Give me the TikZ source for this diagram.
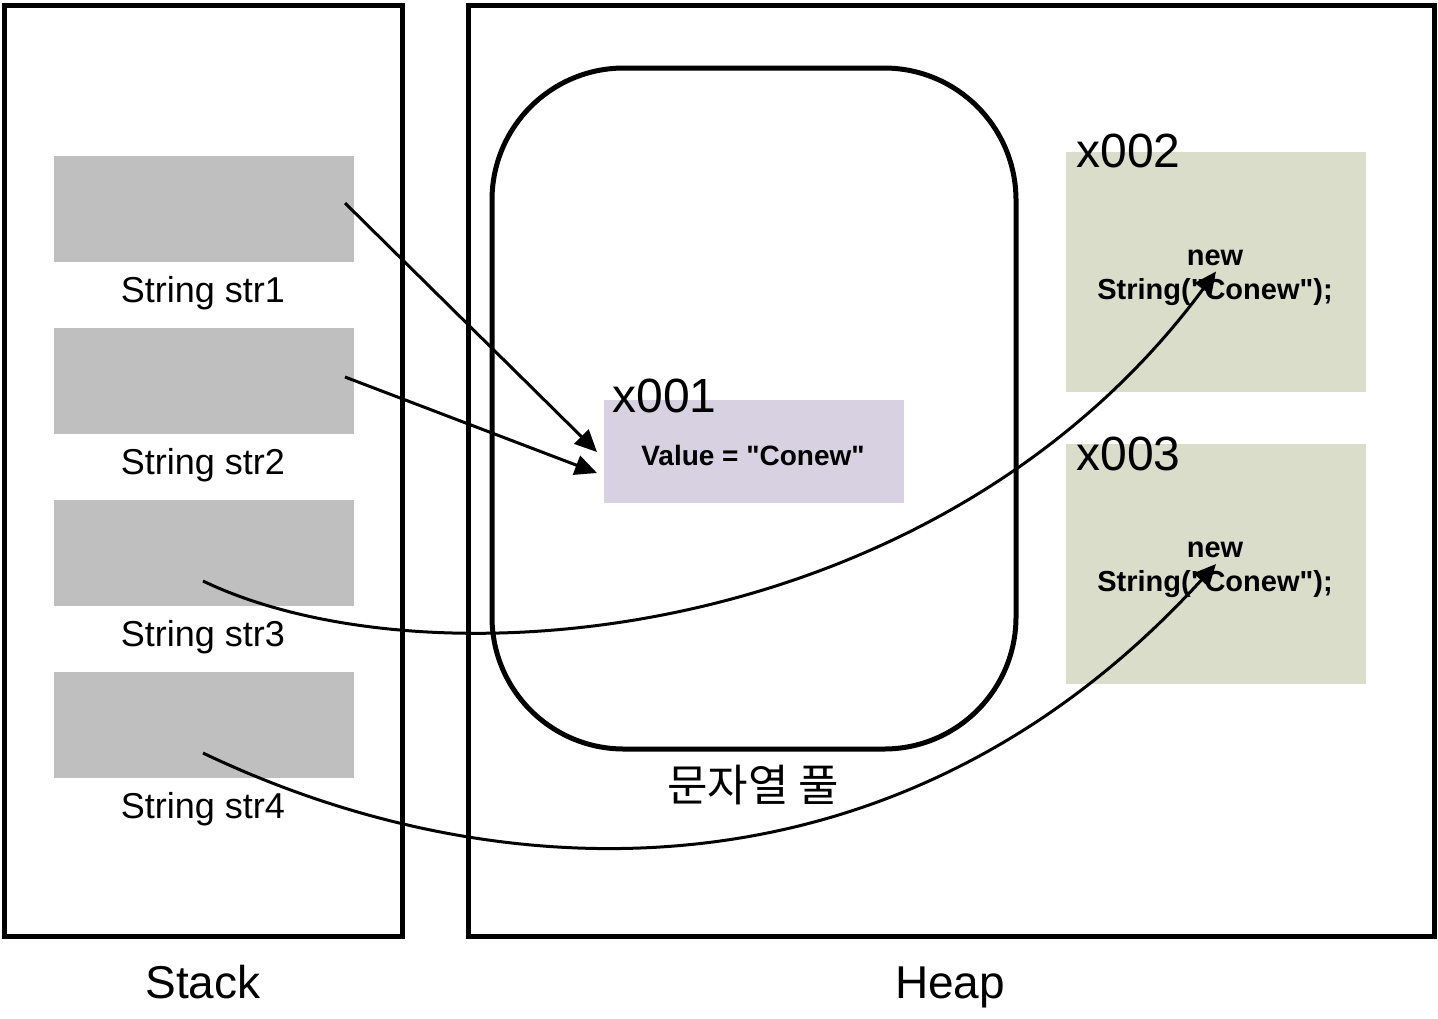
\documentclass[tikz,border=0pt]{standalone}
\usepackage{fontspec}
\setmainfont{Liberation Sans}
\newfontfamily\krfont{Noto Sans CJK KR}
\usetikzlibrary{arrows.meta,positioning}
\definecolor{slotgray}{HTML}{BFBFBF}
\definecolor{poolpurple}{HTML}{D8D1E2}
\definecolor{objgreen}{HTML}{DADDCA}
\newcommand{\qq}{\textquotedbl}

\begin{document}
\begin{tikzpicture}[x=0.5pt, y=-0.5pt, >={Triangle[length=11pt,width=10pt]},
  slot/.style={fill=slotgray, minimum width=150pt, minimum height=53pt, inner sep=0pt},
  obj/.style={fill=objgreen, minimum width=150pt, minimum height=120pt, inner sep=0pt},
  objtext/.style={align=center, inner sep=0pt, font=\bfseries\fontsize{14.5}{17}\selectfont},
  addr/.style={anchor=base west, inner sep=0pt, font=\fontsize{24}{28}\selectfont},
  ref/.style={->, line width=1.5pt}]
  \useasboundingbox (0,0) rectangle (1438,1018);
  % areas
  \draw[line width=2.5pt] (4,5) rectangle (402,936);
  \draw[line width=2.5pt] (468,5) rectangle (1434,936);
  \draw[line width=2.5pt, rounded corners=66pt] (492,68) rectangle (1016,749);
  \node[font=\fontsize{23}{28}\selectfont, anchor=base] (stack) at (203,998) {Stack};
  \node[font=\fontsize{23}{28}\selectfont, anchor=base] (heap) at (950,998) {Heap};
  \node[font=\krfont\fontsize{22}{26}\selectfont] (pool) at (753,785) {문자열 풀};
  % stack slots
  \foreach \i/\y in {1/209, 2/381, 3/553, 4/725} {
    \node[slot] (s\i) at (204,\y) {};
    \node[anchor=base, font=\fontsize{18}{22}\selectfont] (l\i) at (203,\y+93) {String str\i};
  }
  % heap objects
  \node[fill=poolpurple, minimum width=150pt, minimum height=51.5pt, inner sep=0pt] (x001) at (754,451.5) {};
  \node[objtext, font=\bfseries\fontsize{14}{17}\selectfont] (v001) at (753,455) {Value = \qq Conew\qq};
  \node[addr] (a001) at (612,412) {x001};
  \node[obj] (x002) at (1216,271.5) {};
  \node[objtext] (n002) at (1215,278) {new\\String(\qq Conew\qq);};
  \node[addr] (a002) at (1076,167) {x002};
  \node[obj] (x003) at (1216,564) {};
  \node[objtext] (n003) at (1215,570) {new\\String(\qq Conew\qq);};
  \node[addr] (a003) at (1076,470) {x003};
  % references
  \coordinate (p1) at (345,203);
  \coordinate (p2) at (345,377);
  \coordinate (p3) at (203,581);
  \coordinate (p4) at (203,753);
  \coordinate (t1) at (597,452);
  \coordinate (t2) at (597,473);
  \draw[ref] (p1) -- (t1);
  \draw[ref] (p2) -- (t2);
  \draw[ref] (p3) .. controls (430,690) and (940,645) .. (x002.center);
  \draw[ref] (p4) .. controls (500,895) and (900,910) .. (x003.center);
\end{tikzpicture}
\end{document}
